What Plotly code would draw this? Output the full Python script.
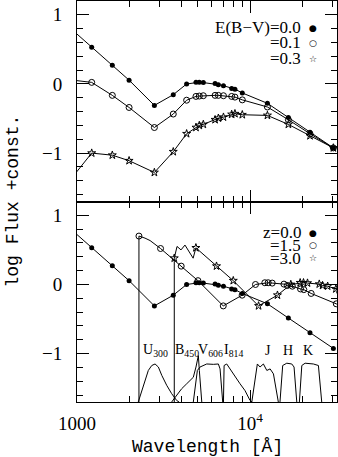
import math
import plotly.graph_objects as go

# rest-frame template: band wavelengths [A] and log flux (+const)
rest_wave = [912, 1216, 1600, 2000, 2800, 3600, 4300, 4870, 5090, 5370, 6280,
             6560, 7020, 7830, 8180, 9020, 12600, 16650, 22200, 30300]
ebv_00 = [0.81, 0.53, 0.27, 0.055, -0.31, -0.155, 0.0, 0.025, 0.025, 0.02, 0.005,
          -0.01, -0.025, -0.065, -0.075, -0.13, -0.28, -0.485, -0.70, -0.925]
ebv_01 = [0.06, 0.023, -0.165, -0.34, -0.63, -0.435, -0.235, -0.18, -0.175, -0.17, -0.165,
          -0.165, -0.17, -0.18, -0.19, -0.23, -0.333, -0.517, -0.72, -0.925]
ebv_03 = [-1.39, -1.0, -1.03, -1.11, -1.28, -0.98, -0.72, -0.63, -0.60, -0.585, -0.517,
          -0.495, -0.48, -0.44, -0.43, -0.445, -0.455, -0.585, -0.75, -0.925]

# redshifted templates, observed frame
z15_wave = [2280, 3040, 4000, 5000, 7000, 9000, 10750, 12175, 12725, 13425, 15700,
            16400, 17550, 19575, 20450, 22550, 31500, 41625]
z15_flux = [0.70, 0.52, 0.265, 0.055, -0.31, -0.155, 0.0, 0.025, 0.025, 0.02, 0.005,
            -0.015, -0.025, -0.065, -0.075, -0.13, -0.28, -0.485]
z15_forest_wave = [2472, 2644]
z15_forest_flux = [0.67, 0.635]

z30_wave = [3648, 4864, 6400, 8000, 11200, 14400, 17200, 19480, 20360, 21480, 25120,
            26240, 28080, 31320, 32720]
z30_flux = [0.38, 0.53, 0.265, 0.055, -0.31, -0.155, 0.0, 0.025, 0.025, 0.02, 0.005,
            -0.015, -0.025, -0.065, -0.075]
z30_forest_wave = [3785, 3990, 4206, 4690]
z30_forest_flux = [0.55, 0.50, 0.57, 0.38]

NO_FLUX = -5  # shortward of the Lyman limit

# filter throughputs (relative)
u300_wave = [2259, 2415, 2583, 2704, 2825, 2952, 3090, 3298, 3524, 3767, 3890]
u300_thru = [0, 0.39, 0.83, 0.96, 1.0, 0.92, 0.70, 0.44, 0.22, 0.04, 0]
b450_wave = [3524, 3767, 4027, 4305, 4500, 4700, 4870, 5026, 5093, 5190, 5260]
b450_thru = [0, 0.17, 0.35, 0.48, 0.57, 0.65, 0.92, 1.22, 0.83, 0.22, 0]
v606_wave = [4700, 4870, 4960, 5140, 5370, 5620, 6140, 6560, 6710, 6860, 6950]
v606_thru = [0, 0.48, 0.83, 0.92, 0.96, 1.0, 0.99, 1.0, 0.87, 0.39, 0]
i814_wave = [7020, 7080, 7330, 7660, 8180, 8750, 9350, 10000, 10270]
i814_thru = [0, 0.96, 1.0, 0.87, 0.65, 0.48, 0.30, 0.04, 0]
j_wave = [10235, 10690, 11020, 11420, 11940, 12500, 13060, 13650, 14140, 14570]
j_thru = [0, 0.65, 1.0, 0.92, 1.0, 0.83, 0.87, 0.74, 0.39, 0]
h_wave = [14890, 15440, 16300, 17420, 17960, 18620]
h_thru = [0, 0.96, 1.02, 1.0, 0.92, 0]
k_wave = [19280, 19910, 20800, 23220, 24830, 25950]
k_thru = [0, 0.96, 1.02, 1.0, 0.96, 0]

filter_labels = ["U<sub>300</sub>", "B<sub>450</sub>", "V<sub>606</sub>", "I<sub>814</sub>", "J", "H", "K"]
filter_label_wave = [2830, 4330, 5880, 7980, 12700, 16600, 21600]

ebv_labels = ["E(B\u2212V)=0.0", "=0.1", "=0.3"]
z_labels = ["z=0.0", "=1.5", "=3.0"]

SERIF = "Liberation Serif"
MONO = "Liberation Mono"

fig = go.Figure()

MARKERS = [dict(symbol="circle", size=5, color="black"),
           dict(symbol="circle-open", size=6, color="black", line=dict(width=1)),
           dict(symbol="star-open", size=6, color="black", line=dict(width=1))]


def add(x, y, mode, marker, xa, ya):
    fig.add_trace(go.Scatter(x=x, y=y, mode=mode, xaxis=xa, yaxis=ya,
                             line=dict(color="black", width=1), marker=marker,
                             showlegend=False, hoverinfo="skip"))


# top panel: reddening
for flux, mk in zip([ebv_00, ebv_01, ebv_03], MARKERS):
    add(rest_wave, flux, "lines+markers", mk, "x", "y")

# bottom panel: redshift
add(rest_wave, ebv_00, "lines+markers", MARKERS[0], "x2", "y2")
for wave, flux, fw, ff, mk in [(z15_wave, z15_flux, z15_forest_wave, z15_forest_flux, MARKERS[1]),
                               (z30_wave, z30_flux, z30_forest_wave, z30_forest_flux, MARKERS[2])]:
    lx = [wave[0], wave[0]] + fw + wave[1:]
    ly = [NO_FLUX, flux[0]] + ff + flux[1:]
    add(lx, ly, "lines", None, "x2", "y2")
    add(wave, flux, "markers", mk, "x2", "y2")

# filter curves on their own overlaid axis
for w, t in [(u300_wave, u300_thru), (b450_wave, b450_thru), (v606_wave, v606_thru),
             (i814_wave, i814_thru), (j_wave, j_thru), (h_wave, h_thru), (k_wave, k_thru)]:
    add(w, t, "lines", None, "x2", "y3")

ann = []
for lab, w in zip(filter_labels, filter_label_wave):
    ann.append(dict(x=math.log10(w), y=-0.96, xref="x2", yref="y2", text=lab, showarrow=False,
                    font=dict(family=SERIF, size=14, color="black")))

sym = ["\u25cf", "\u25cb", "\u2606"]
for labels, ys, xr, yr in [(ebv_labels, [0.81, 0.594, 0.362], "x", "y"),
                           (z_labels, [0.75, 0.57, 0.38], "x2", "y2")]:
    for lab, yv, s in zip(labels, ys, sym):
        ann.append(dict(x=4.298, y=yv, xref=xr, yref=yr, text=lab, xanchor="right", showarrow=False,
                        borderpad=0, font=dict(family=SERIF, size=17, color="black")))
        ann.append(dict(x=4.362, y=yv, xref=xr, yref=yr, text=s, showarrow=False,
                        borderpad=0, font=dict(family="DejaVu Sans", size=9, color="black")))

ann.append(dict(x=0.5, y=-0.112, xref="paper", yref="paper", text="Wavelength [\u00c5]",
                xanchor="center", yanchor="middle",
                showarrow=False, font=dict(family=MONO, size=18, color="black")))
ann.append(dict(x=-0.25, y=0.5, xref="paper", yref="paper", text="log Flux +const.",
                xanchor="center", yanchor="middle",
                textangle=-90, showarrow=False, font=dict(family=MONO, size=18, color="black")))

xcommon = dict(type="log", range=[3, math.log10(31800)], showline=True, linecolor="black",
               linewidth=1, mirror="ticks", ticks="inside", ticklen=12, tickwidth=1,
               tickcolor="black", tickvals=[1000, 10000], ticktext=["1000", "10<sup>4</sup>"],
               minor=dict(tickvals=[2000, 3000, 4000, 5000, 6000, 7000, 8000, 9000, 20000, 30000],
                          ticks="inside", ticklen=6, tickcolor="black"),
               showgrid=False, zeroline=False, tickfont=dict(family=SERIF, size=19, color="black"))
ycommon = dict(range=[-1.7, 1.2], showline=True, linecolor="black", linewidth=1, mirror="ticks",
               ticks="inside", ticklen=12, tickwidth=1, tickcolor="black",
               tickvals=[-1, 0, 1], ticktext=["\u22121", "0", "1"],
               minor=dict(dtick=0.2, tick0=0, ticks="inside", ticklen=6, tickcolor="black"),
               showgrid=False, zeroline=False, ticklabelstandoff=10,
               tickfont=dict(family=SERIF, size=19, color="black"))

fig.update_layout(
    width=338, height=457,
    margin=dict(l=77, r=1, t=1, b=55),
    paper_bgcolor="white", plot_bgcolor="white",
    xaxis=dict(xcommon, anchor="y", showticklabels=False),
    yaxis=dict(ycommon, domain=[0.5, 1], anchor="x"),
    xaxis2=dict(xcommon, anchor="y2", matches="x", ticklabelstandoff=4),
    yaxis2=dict(ycommon, domain=[0, 0.5], anchor="x2"),
    yaxis3=dict(range=[0, 2.9 / 0.55], overlaying="y2", anchor="x2", visible=False),
    annotations=ann,
)

fig.write_html("out.html", config={"displayModeBar": False},
               post_script="document.body.style.margin='0';")
